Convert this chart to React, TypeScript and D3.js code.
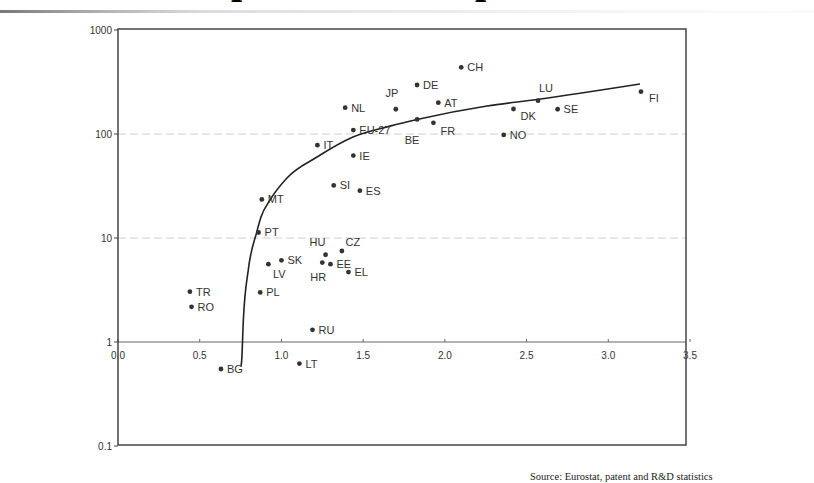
import React from "react";
import * as d3 from "d3";

// ---- data ----
const countries = ["CH","DE","JP","AT","NL","BE","FR","EU-27","IT","IE","SI","ES","MT","LU","DK","SE","NO","FI","PT","HU","CZ","HR","EE","EL","SK","LV","PL","RU","LT","TR","RO","BG"];
const rdSpending = [2.10,1.83,1.70,1.96,1.39,1.83,1.93,1.44,1.22,1.44,1.32,1.48,0.88,2.57,2.42,2.69,2.36,3.20,0.86,1.27,1.37,1.25,1.30,1.41,1.00,0.92,0.87,1.19,1.11,0.44,0.45,0.63];
const patents = [438,296,173,200,179,138,128,109,78,62,32,28.5,23.5,209,174,173,98,255,11.3,6.9,7.5,5.8,5.6,4.7,6.1,5.6,3.0,1.31,0.62,3.05,2.18,0.55];

const trendX = [0.753,0.757,0.767,0.797,0.849,0.875,0.93,1.034,1.218,1.438,1.664,1.83,2.258,2.564,3.194];
const trendY = [0.59,0.67,1.63,4.92,11.4,15.9,23.2,37.8,60.1,93.6,119,138,186,215,303];

const xTicks = [0,0.5,1,1.5,2,2.5,3,3.5];
const xTickLabels = ["0.0","0.5","1.0","1.5","2.0","2.5","3.0","3.5"];
const yTicks = [0.1,1,10,100,1000];
const yTickLabels = ["0.1","1","10","100","1000"];

const titleText = ["Patent out","put vs R&D in","put"];
const sourceText = "Source: Eurostat, patent and R&D statistics";

// ---- layout (label placement relative to the dot) ----
const labelLayout: Record<string, [number, number, string]> = {
  JP: [-4, -12, "middle"],
  BE: [-5, 25, "middle"],
  FR: [7, 12, "start"],
  LU: [8, -9, "middle"],
  DK: [7, 11, "start"],
  FI: [8, 10, "start"],
  HU: [-8, -9, "middle"],
  CZ: [11, -5, "middle"],
  HR: [-4, 18, "middle"],
  LV: [11, 14, "middle"],
};

const W = 814, H = 483;
const L = 118, R = 686, T = 29, B = 445;
const font = "'Liberation Sans', Arial, sans-serif";

export default function App() {
  const x = d3.scaleLinear().domain([0, 3.5]).range([118, 690]);
  const y = d3.scaleLog().domain([0.1, 1000]).range([446, 30]);
  const line = d3.line<number>()
    .x((_, i) => x(trendX[i]))
    .y((_, i) => y(trendY[i]))
    .curve(d3.curveMonotoneX);
  const axisY = y(1);

  return (
    <svg width={W} height={H} style={{ position: "absolute", left: 0, top: 0, background: "#fff" }}>
      <defs>
        <linearGradient id="shade" x1="0" x2="1" y1="0" y2="0">
          <stop offset="0" stopColor="#555" stopOpacity="0.8" />
          <stop offset="0.25" stopColor="#999" stopOpacity="0.35" />
          <stop offset="1" stopColor="#ddd" stopOpacity="0.1" />
        </linearGradient>
      </defs>
      <rect x={0} y={0} width={W} height={H} fill="#fff" />
      <text y={-7} fontFamily="'Liberation Serif', serif" fontWeight="bold" fontSize={40} fill="#000">
        <tspan x={40}>{titleText[0]}</tspan>
        <tspan x={231}>{titleText[1]}</tspan>
        <tspan x={475}>{titleText[2]}</tspan>
      </text>
      <rect x={0} y={10} width={W} height={3} fill="url(#shade)" />

      {/* gridlines */}
      {[10, 100].map((v) => (
        <line key={v} x1={L} x2={R} y1={y(v)} y2={y(v)} stroke="#cfcfcf" strokeWidth={1} strokeDasharray="8,4" />
      ))}
      <line x1={L} x2={R} y1={axisY} y2={axisY} stroke="#666" strokeWidth={1.2} />
      {xTicks.map((t, i) => (
        <g key={t}>
          <line x1={x(t)} x2={x(t)} y1={axisY} y2={axisY - 3} stroke="#666" strokeWidth={1} />
          <text x={x(t)} y={axisY + 17} textAnchor="middle" fontFamily={font} fontSize={10} fill="#333">{xTickLabels[i]}</text>
        </g>
      ))}

      {/* frame */}
      <rect x={L} y={T} width={R - L} height={B - T} fill="none" stroke="#444" strokeWidth={1.5} />
      {yTicks.map((t, i) => (
        <g key={t}>
          <line x1={L - 4} x2={L} y1={y(t)} y2={y(t)} stroke="#444" strokeWidth={1} />
          <text x={L - 6} y={y(t) + 4} textAnchor="end" fontFamily={font} fontSize={10} fill="#333">{yTickLabels[i]}</text>
        </g>
      ))}

      {/* trend curve */}
      <path d={line(trendX) || ""} fill="none" stroke="#222" strokeWidth={1.6} />

      {/* points */}
      {countries.map((c, i) => {
        const cx = x(rdSpending[i]);
        const cy = y(patents[i]);
        const lay = labelLayout[c] || [6, 4, "start"];
        return (
          <g key={c}>
            <circle cx={cx} cy={cy} r={2.4} fill="#333" />
            <text x={cx + lay[0]} y={cy + lay[1]} textAnchor={lay[2] as any} fontFamily={font} fontSize={11} fill="#333">{c}</text>
          </g>
        );
      })}

      <text x={530} y={480} fontFamily="'Liberation Serif', serif" fontSize={10.5} fill="#222">{sourceText}</text>
    </svg>
  );
}
